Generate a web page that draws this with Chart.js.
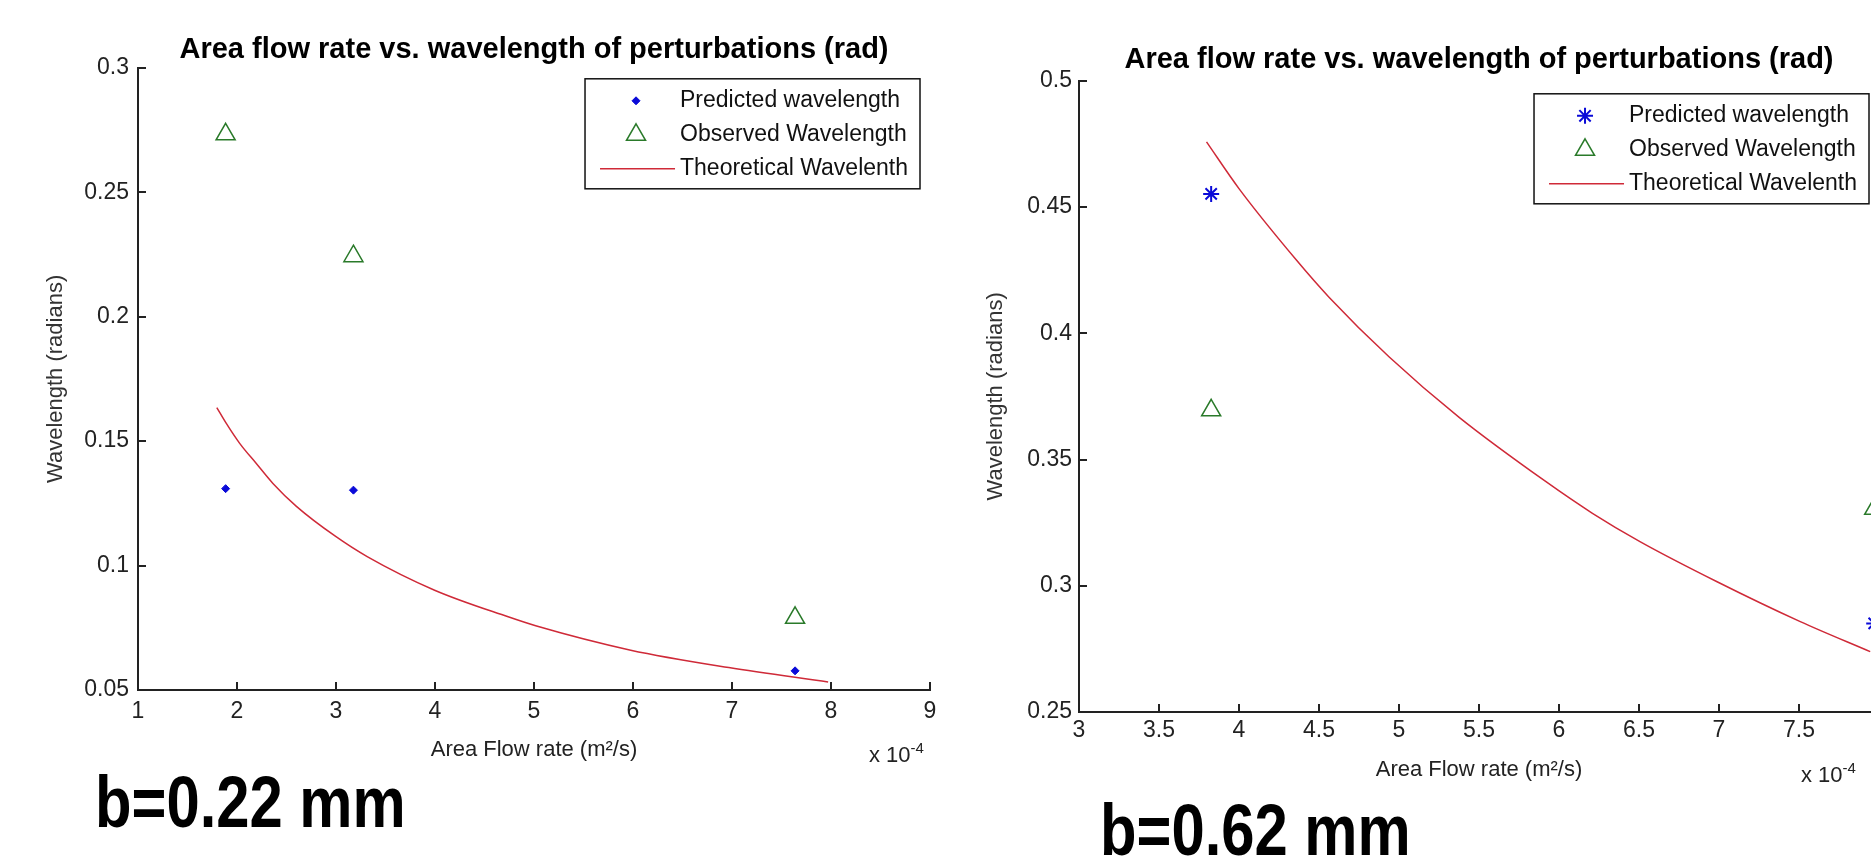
<!DOCTYPE html>
<html>
<head>
<meta charset="utf-8">
<script src="https://cdn.jsdelivr.net/npm/chart.js@4.4.1/dist/chart.umd.min.js"></script>
<style>
  html, body { margin: 0; padding: 0; background: #fff; width: 1871px; height: 867px; overflow: hidden; position: relative; }
  canvas { position: absolute; top: 0; }
  #graficaA { left: 0; }
  #graficaB { left: 940px; }
  .rotulo { position: absolute; font-family: "Liberation Sans", Arial, sans-serif; font-weight: bold; font-size: 72px; line-height: 72px; color: #000; white-space: nowrap; transform: scaleX(0.83); transform-origin: 0 0; }
  .escala { position: absolute; font-family: "Liberation Sans", Arial, sans-serif; font-size: 22px; line-height: 22px; color: #222; white-space: nowrap; }
  .escala sup { font-size: 15px; vertical-align: 9px; line-height: 0; }
</style>
</head>
<body>
<canvas id="graficaA" width="960" height="800"></canvas>
<canvas id="graficaB" width="970" height="800"></canvas>
<div class="escala" style="left:869px; top:744px">x 10<sup>-4</sup></div>
<div class="escala" style="left:1801px; top:764px">x 10<sup>-4</sup></div>
<div class="rotulo" style="left:95px; top:766px">b=0.22 mm</div>
<div class="rotulo" style="left:1100px; top:794px">b=0.62 mm</div>
<script>
// ---- b = 0.22 mm (grafica izquierda) ----
const caudalA = [1.885, 3.176, 7.637];
const predichaA = [0.1309, 0.1303, 0.0577];
const observadaA = [0.2733, 0.2243, 0.0790];
const caudalTeoA = [1.796, 1.892, 2.027, 2.195, 2.363, 2.6, 2.993, 3.315, 3.996, 4.739, 5.017, 5.977, 6.968, 7.971];
const teoricaA = [0.1635, 0.1571, 0.1491, 0.141, 0.133, 0.1238, 0.1118, 0.1036, 0.0901, 0.0794, 0.0758, 0.066, 0.059, 0.0532];
const ticksXA = [1, 2, 3, 4, 5, 6, 7, 8, 9];
const ticksYA = [0.05, 0.1, 0.15, 0.2, 0.25, 0.3];

// ---- b = 0.62 mm (grafica derecha) ----
const caudalB = [3.826, 7.97];
const predichaB = [0.4552, 0.2851];
const observadaB = [0.3695, 0.3305];
const caudalTeoB = [3.797, 4.001, 4.356, 4.564, 4.939, 5.376, 5.912, 6.209, 6.506, 6.988, 7.508, 7.945];
const teoricaB = [0.4758, 0.4572, 0.4292, 0.4142, 0.3906, 0.3667, 0.3415, 0.3287, 0.3175, 0.3016, 0.2858, 0.2739];
const ticksXB = [3, 3.5, 4, 4.5, 5, 5.5, 6, 6.5, 7, 7.5, 8];
const ticksYB = [0.25, 0.3, 0.35, 0.4, 0.45, 0.5];

const titulo = 'Area flow rate vs. wavelength of perturbations (rad)';
const nombres = ['Predicted wavelength', 'Observed Wavelength', 'Theoretical Wavelenth'];

const fuente = '"Liberation Sans", Arial, sans-serif';

// marcas de los ejes hacia adentro (como matlab)
const marcasInternas = {
  id: 'marcasInternas',
  afterDatasetsDraw(chart) {
    const {ctx, chartArea: a, scales: {x, y}} = chart;
    ctx.save();
    ctx.strokeStyle = '#222';
    ctx.lineWidth = 2;
    ctx.beginPath();
    x.ticks.forEach(t => {
      const px = Math.round(x.getPixelForValue(t.value));
      ctx.moveTo(px, a.bottom);
      ctx.lineTo(px, a.bottom - 8);
    });
    y.ticks.forEach(t => {
      const py = Math.round(y.getPixelForValue(t.value));
      ctx.moveTo(a.left, py);
      ctx.lineTo(a.left + 8, py);
    });
    ctx.stroke();
    ctx.restore();
  }
};

// leyenda dentro del area (esquina superior derecha)
const leyenda = {
  id: 'leyenda',
  afterDraw(chart, args, opts) {
    const {ctx, chartArea: a} = chart;
    ctx.save();
    ctx.font = '23px ' + fuente;
    const sets = chart.data.datasets;
    const anchoTxt = Math.max(...sets.map(d => ctx.measureText(d.label).width));
    const ancho = 95 + anchoTxt + 12;
    const alto = 110;
    const x0 = a.right - 10 - ancho;
    const y0 = a.top + opts.margenSup;
    ctx.fillStyle = '#fff';
    ctx.fillRect(x0, y0, ancho, alto);
    ctx.strokeStyle = '#111';
    ctx.lineWidth = 1.5;
    ctx.strokeRect(x0, y0, ancho, alto);
    sets.forEach((d, i) => {
      const cy = y0 + 22 + i * 34;
      if (d.showLine) {
        ctx.strokeStyle = d.borderColor;
        ctx.lineWidth = d.borderWidth;
        ctx.beginPath();
        ctx.moveTo(x0 + 15, cy);
        ctx.lineTo(x0 + 90, cy);
        ctx.stroke();
      } else {
        ctx.strokeStyle = d.borderColor;
        ctx.fillStyle = d.backgroundColor;
        ctx.lineWidth = d.borderWidth;
        Chart.helpers.drawPoint(ctx, {pointStyle: d.pointStyle, radius: d.pointRadius, rotation: 0, borderWidth: d.borderWidth}, x0 + 51, cy);
      }
      ctx.fillStyle = '#111';
      ctx.textBaseline = 'middle';
      ctx.textAlign = 'left';
      ctx.fillText(d.label, x0 + 95, cy);
    });
    ctx.restore();
  }
};

function puntos(xs, ys) {
  return xs.map((x, i) => ({x: x, y: ys[i]}));
}

function crearGrafica(id, g) {
  const ctx = document.getElementById(id).getContext('2d');
  return new Chart(ctx, {
    type: 'scatter',
    data: {
      datasets: [
        {
          label: nombres[0],
          data: puntos(g.caudal, g.predicha),
          pointStyle: g.estiloPred,
          pointRadius: g.radioPred,
          borderColor: '#0a0ad8',
          backgroundColor: '#0a0ad8',
          borderWidth: g.bordePred,
        },
        {
          label: nombres[1],
          data: puntos(g.caudal, g.observada),
          pointStyle: 'triangle',
          pointRadius: 11,
          borderColor: '#2a7a2a',
          backgroundColor: 'rgba(255,255,255,0)',
          borderWidth: 1.5,
        },
        {
          label: nombres[2],
          data: puntos(g.caudalTeo, g.teorica),
          showLine: true,
          pointRadius: 0,
          borderColor: '#cf2a38',
          backgroundColor: '#cf2a38',
          borderWidth: 1.5,
          cubicInterpolationMode: 'monotone',
        },
      ],
    },
    options: {
      responsive: false,
      animation: false,
      events: [],
      layout: { padding: { left: 0, right: g.padDer, top: g.padSup, bottom: 0 } },
      plugins: {
        legend: { display: false },
        tooltip: { enabled: false },
        title: {
          display: true,
          text: titulo,
          fullSize: false,
          color: '#000',
          font: { family: fuente, size: 29, weight: 'bold', lineHeight: 1.2 },
          padding: { top: 0, bottom: g.titAbajo },
        },
        leyenda: { margenSup: g.leySup },
      },
      scales: {
        x: {
          type: 'linear',
          position: 'bottom',
          min: g.ticksX[0],
          max: g.xMax,
          afterBuildTicks: s => { s.ticks = g.ticksX.map(v => ({value: v})); },
          afterFit: s => { s.height = 800 - g.abajo; },
          ticks: { color: '#222', font: { family: fuente, size: 23 }, padding: g.padTickX, maxRotation: 0, autoSkip: false, callback: v => String(v) },
          grid: { display: true, drawOnChartArea: false, drawTicks: false },
          border: { color: '#222', width: 2 },
          title: { display: true, text: 'Area Flow rate (m²/s)', color: '#222', font: { family: fuente, size: 22 }, padding: { top: 0, bottom: g.padTitX } },
        },
        y: {
          type: 'linear',
          min: g.ticksY[0],
          max: g.ticksY[g.ticksY.length - 1],
          afterBuildTicks: s => { s.ticks = g.ticksY.map(v => ({value: v})); },
          afterFit: s => { s.width = g.anchoY; },
          ticks: { color: '#222', font: { family: fuente, size: 23 }, padding: g.padTickY, callback: v => String(+v.toFixed(2)) },
          grid: { display: true, drawOnChartArea: false, drawTicks: false },
          border: { color: '#222', width: 2 },
          title: { display: true, text: 'Wavelength (radians)', color: '#333', font: { family: fuente, size: 22 }, padding: { top: 43, bottom: 0 } },
        },
      },
    },
    plugins: [marcasInternas, leyenda],
  });
}

crearGrafica('graficaA', {
  caudal: caudalA, predicha: predichaA, observada: observadaA,
  caudalTeo: caudalTeoA, teorica: teoricaA,
  ticksX: ticksXA, ticksY: ticksYA, xMax: 9,
  estiloPred: 'rectRot', radioPred: 4, bordePred: 1,
  padDer: 30, padSup: 33, titAbajo: 0, leySup: 11,
  abajo: 690, anchoY: 138, padTickX: 8, padTickY: 9, padTitX: 37,
});

crearGrafica('graficaB', {
  caudal: caudalB, predicha: predichaB, observada: observadaB,
  caudalTeo: caudalTeoB, teorica: teoricaB,
  ticksX: ticksXB, ticksY: ticksYB, xMax: 8,
  estiloPred: 'star', radioPred: 8, bordePred: 2,
  padDer: 31, padSup: 43, titAbajo: 3, leySup: 13,
  abajo: 712, anchoY: 139, padTickX: 5, padTickY: 7, padTitX: 17,
});
</script>
</body>
</html>
